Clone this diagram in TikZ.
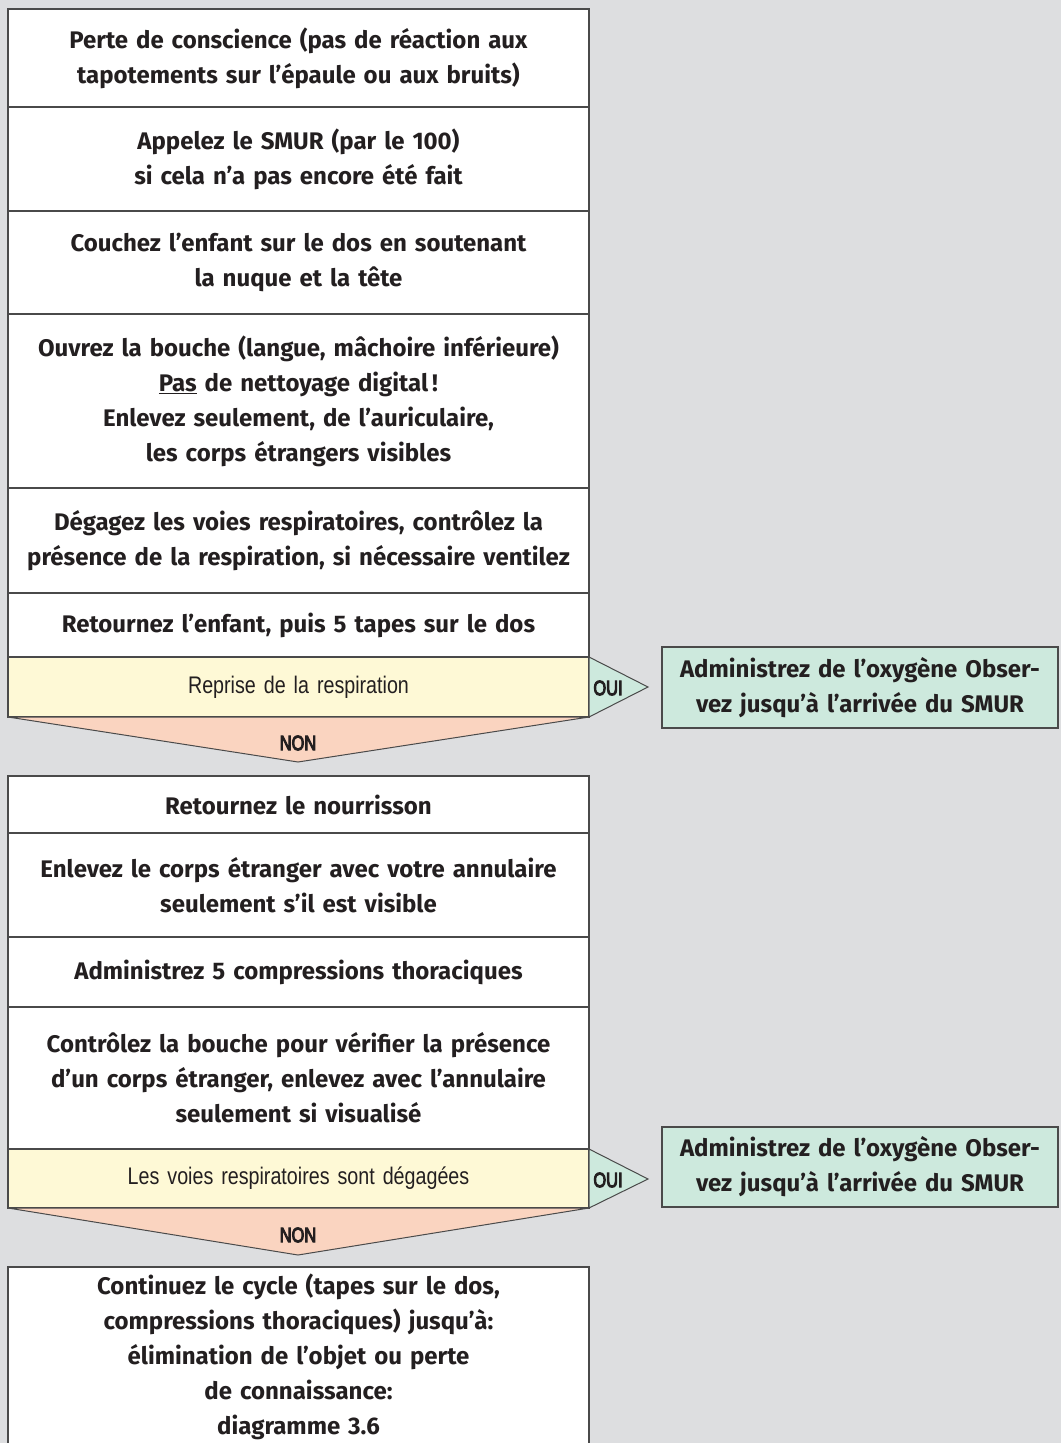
\documentclass[tikz,border=0pt]{standalone}
\usepackage{fontspec}
\setmainfont{Fira Sans}
\newfontfamily\condfont[FakeStretch=0.82]{Liberation Sans}
\newfontfamily\condbold[FakeStretch=0.78, FakeBold=4.5]{Liberation Sans}
\definecolor{bg}{HTML}{DDDEE0}
\definecolor{bd}{HTML}{4A4A4A}
\definecolor{tx}{HTML}{231F20}
\definecolor{yel}{HTML}{FEF9D6}
\definecolor{sal}{HTML}{FAD4C0}
\definecolor{gr}{HTML}{CDE9DD}
\tikzset{
  mainfont/.style={font=\bfseries\fontsize{24}{35}\selectfont},
  wbox/.style={draw=bd, line width=1.2pt, fill=white, minimum width=581pt,
    anchor=north west, align=center, inner sep=0pt, outer sep=0pt,
    text width=575pt, text=tx, mainfont},
  ybox/.style={wbox, fill=yel, font=\condfont\fontsize{24}{28}\selectfont},
  gbox/.style={draw=bd, line width=1.2pt, fill=gr, minimum width=396pt,
    anchor=north west, align=center, inner sep=0pt, outer sep=0pt,
    text width=390pt, text=tx, mainfont},
  tri/.style={draw=bd, line width=1pt},
  lab/.style={text=tx, inner sep=0pt, font=\condbold\fontsize{21}{24}\selectfont}
}
\begin{document}
\begin{tikzpicture}[x=1pt,y=-1pt]
\useasboundingbox (0,0) rectangle (1061,1443);
\fill[bg] (0,0) rectangle (1061,1443);

% upper sequence
\node[wbox, minimum height=98pt] (b1) at (8,9)
  {Perte de conscience (pas de réaction aux\\tapotements sur l’épaule ou aux bruits)};
\node[wbox, minimum height=104pt] (b2) at (b1.south west)
  {Appelez le SMUR (par le 100)\\si cela n’a pas encore été fait};
\node[wbox, minimum height=103pt] (b3) at (b2.south west)
  {Couchez l’enfant sur le dos en soutenant\\la nuque et la tête};
\node[wbox, minimum height=174pt] (b4) at (b3.south west)
  {Ouvrez la bouche (langue, mâchoire inférieure)\\\underline{Pas} de nettoyage digital\,!\\Enlevez seulement, de l’auriculaire,\\les corps étrangers visibles};
\node[wbox, minimum height=105pt] (b5) at (b4.south west)
  {Dégagez les voies respiratoires, contrôlez la\\présence de la respiration, si nécessaire ventilez};
\node[wbox, minimum height=64pt] (b6) at (b5.south west)
  {Retournez l’enfant, puis 5 tapes sur le dos};

% decision 1
\coordinate (apex1) at (298,762);
\coordinate (tip1) at (648,687);
\node[ybox, minimum height=60pt] (y1) at (b6.south west) {Reprise de la respiration};
\draw[tri, fill=sal] (y1.south west) -- (apex1) -- (y1.south east) -- cycle;
\draw[tri, fill=gr] (y1.north east) -- (tip1) -- (y1.south east) -- cycle;
\node[lab] (oui1) at (608,688) {OUI};
\node[lab] (non1) at (298,743) {NON};
\node[gbox, minimum height=81pt] (g1) at (662,647)
  {Administrez de l’oxygène Obser-\\vez jusqu’à l’arrivée du SMUR};

% lower sequence
\node[wbox, minimum height=57pt] (b7) at (8,776)
  {Retournez le nourrisson};
\node[wbox, minimum height=104pt] (b8) at (b7.south west)
  {Enlevez le corps étranger avec votre annulaire\\seulement s’il est visible};
\node[wbox, minimum height=70pt] (b9) at (b8.south west)
  {Administrez 5 compressions thoraciques};
\node[wbox, minimum height=142pt] (b10) at (b9.south west)
  {Contrôlez la bouche pour vérifier la présence\\d’un corps étranger, enlevez avec l’annulaire\\seulement si visualisé};

% decision 2
\coordinate (apex2) at (298,1255);
\coordinate (tip2) at (648,1179);
\node[ybox, minimum height=59pt] (y2) at (b10.south west) {Les voies respiratoires sont dégagées};
\draw[tri, fill=sal] (y2.south west) -- (apex2) -- (y2.south east) -- cycle;
\draw[tri, fill=gr] (y2.north east) -- (tip2) -- (y2.south east) -- cycle;
\node[lab] (oui2) at (608,1180) {OUI};
\node[lab] (non2) at (298,1235) {NON};
\node[gbox, minimum height=80pt] (g2) at (662,1127)
  {Administrez de l’oxygène Obser-\\vez jusqu’à l’arrivée du SMUR};

\node[wbox, minimum height=180pt] (b11) at (8,1267)
  {Continuez le cycle (tapes sur le dos,\\compressions thoraciques) jusqu’à:\\élimination de l’objet ou perte\\de connaissance:\\diagramme 3.6};
\end{tikzpicture}
\end{document}
